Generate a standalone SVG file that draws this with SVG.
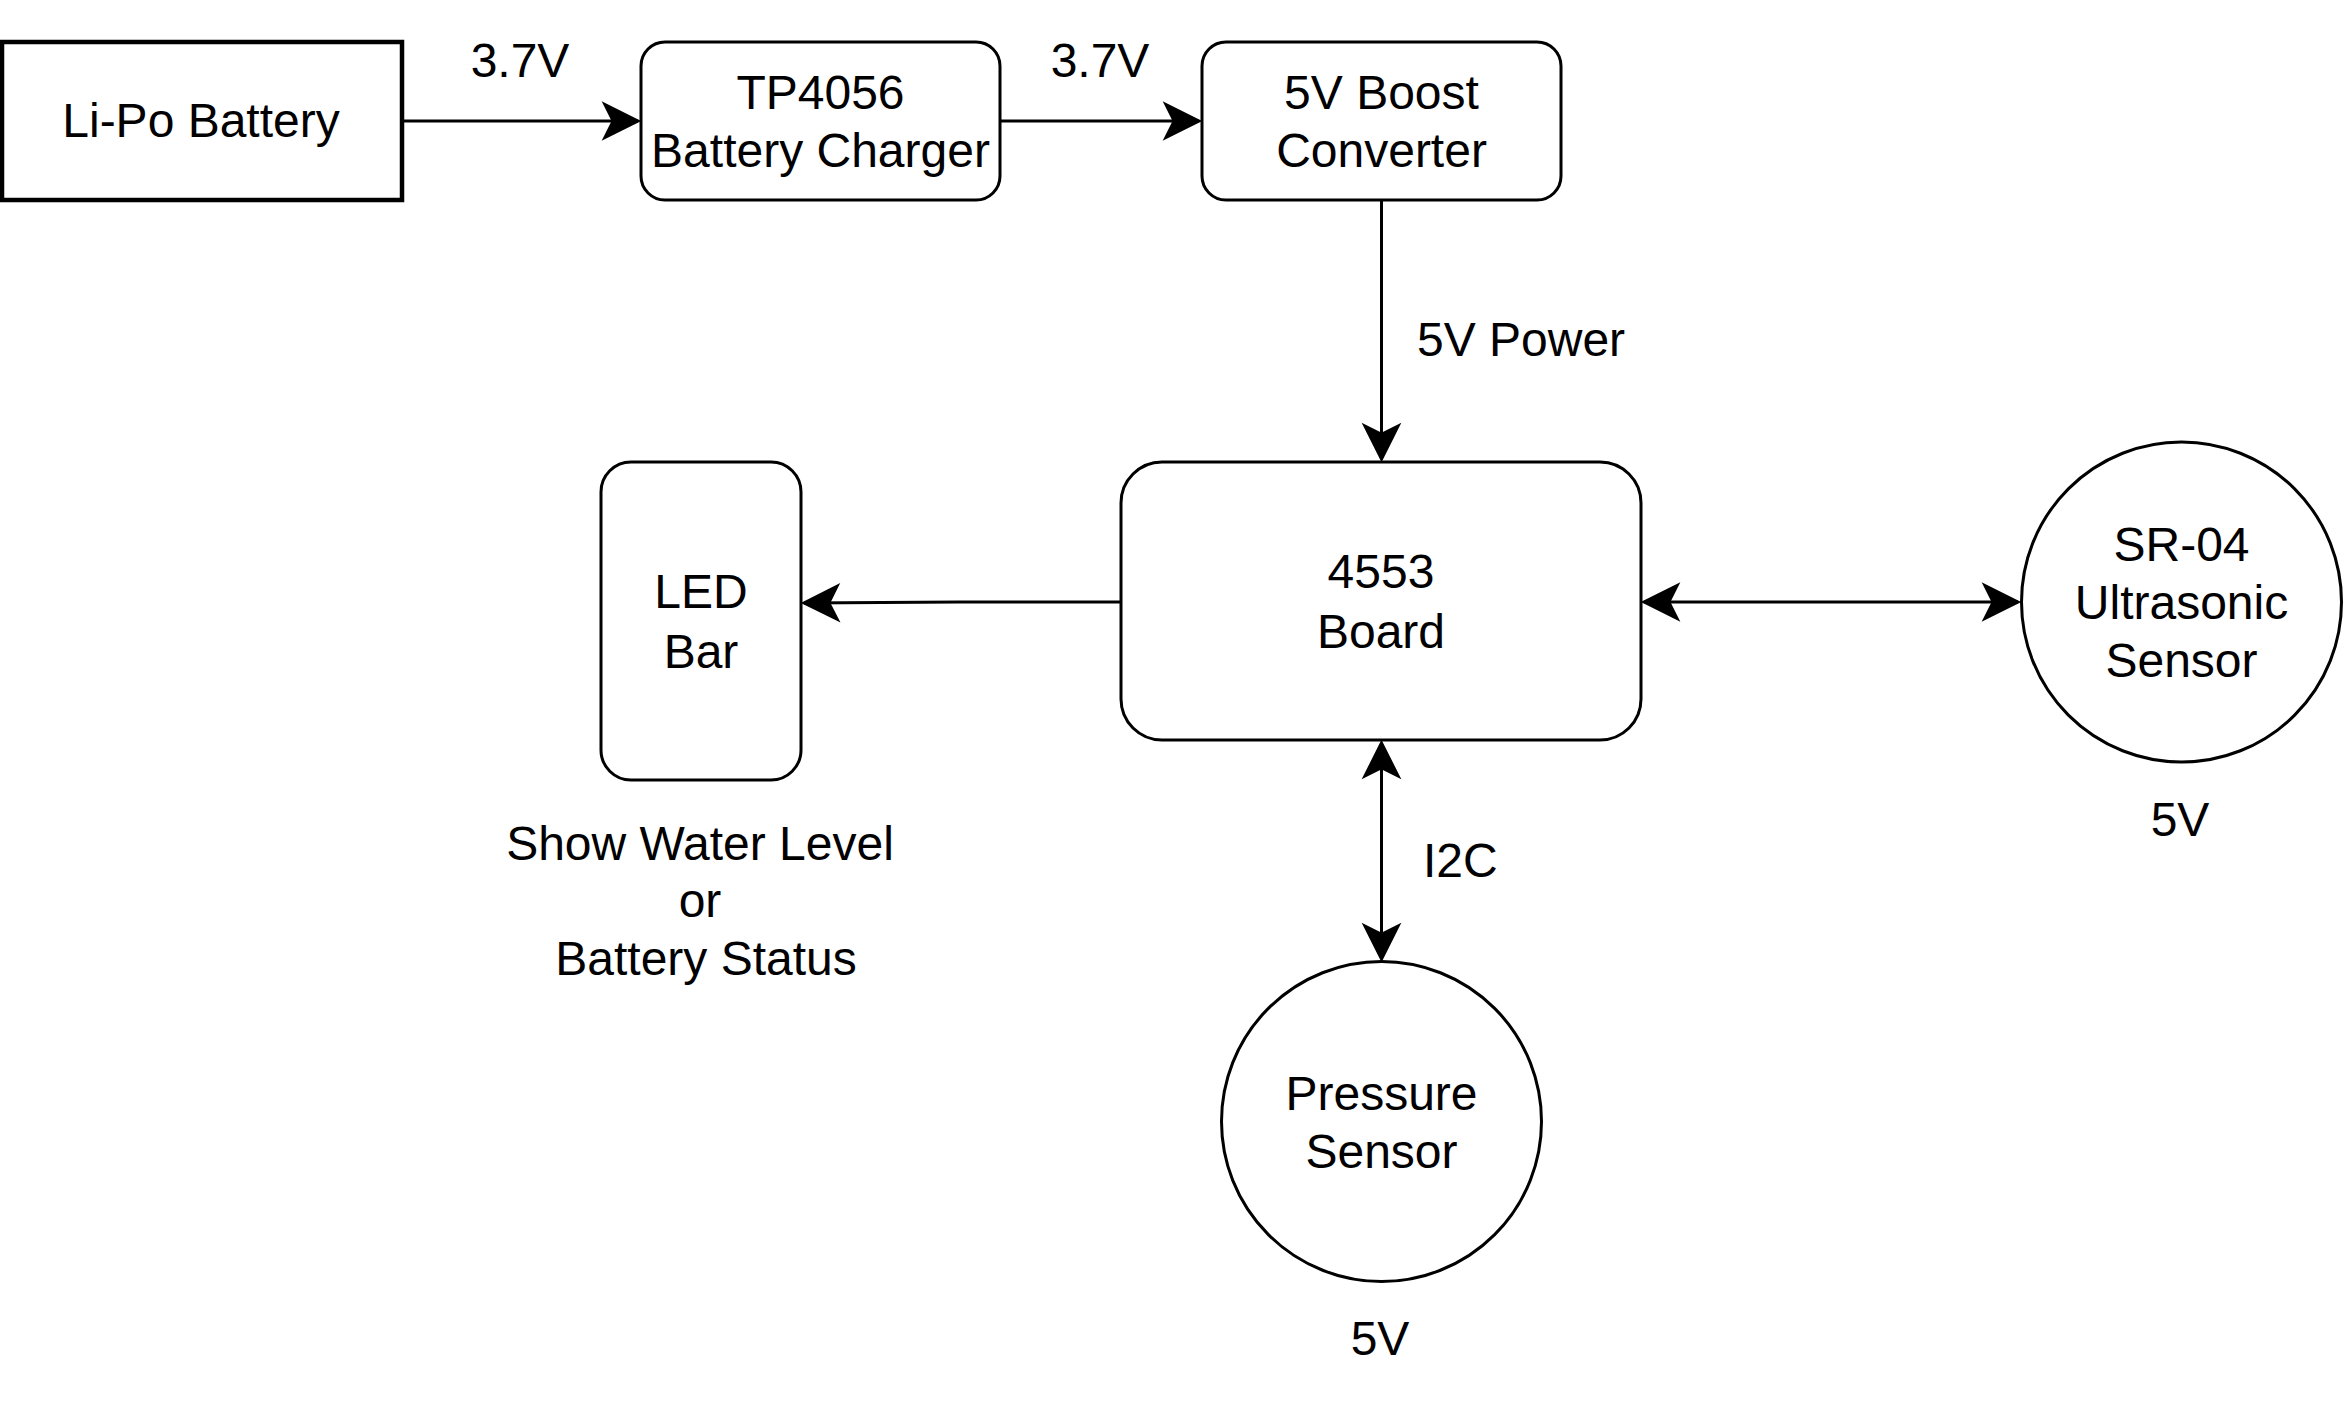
<svg xmlns="http://www.w3.org/2000/svg" width="2344" height="1404" viewBox="0 0 2344 1404">
<style>
.box{fill:#fff;stroke:#000;stroke-width:3}
.thick{stroke-width:4.5}
.t{font-family:"Liberation Sans",Arial,Helvetica,sans-serif;font-size:48px;fill:#000;text-anchor:middle}
.ts{text-anchor:start}
.c{fill:none;stroke:#000;stroke-width:3}
</style>
<defs>
<marker id="arr" markerUnits="userSpaceOnUse" viewBox="-40 -22 44 44" markerWidth="44" markerHeight="44" refX="0" refY="0" orient="auto-start-reverse">
<path d="M0,0 L-33,-16.5 L-24.75,0 L-33,16.5 Z" fill="#000" stroke="#000" stroke-width="3" stroke-linejoin="miter"/>
</marker>
</defs>
<rect width="2344" height="1404" fill="#fff"/>
<g id="connectors">
<path class="c" d="M402,121 L638,121" marker-end="url(#arr)"/>
<path class="c" d="M1000,121 L1199,121" marker-end="url(#arr)"/>
<path class="c" d="M1381.5,200 L1381.5,459" marker-end="url(#arr)"/>
<path class="c" d="M1121,602 L960,602 L804,603" marker-end="url(#arr)"/>
<path class="c" d="M1644,602 L2018,602" marker-start="url(#arr)" marker-end="url(#arr)"/>
<path class="c" d="M1381.5,743 L1381.5,959" marker-start="url(#arr)" marker-end="url(#arr)"/>
</g>
<g id="lipo">
<rect class="box thick" x="2" y="42" width="400" height="158"/>
<text class="t" x="201" y="137">Li-Po Battery</text>
</g>
<g id="tp4056">
<rect class="box" x="641" y="42" width="359" height="158" rx="24" ry="24"/>
<text class="t" x="820.5" y="109">TP4056</text>
<text class="t" x="820.5" y="167">Battery Charger</text>
</g>
<g id="boost">
<rect class="box" x="1202" y="42" width="359" height="158" rx="24" ry="24"/>
<text class="t" x="1381.5" y="109">5V Boost</text>
<text class="t" x="1381.5" y="167">Converter</text>
</g>
<g id="board">
<rect class="box" x="1121" y="462" width="520" height="278" rx="41" ry="41"/>
<text class="t" x="1381" y="588">4553</text>
<text class="t" x="1381" y="648">Board</text>
</g>
<g id="ledbar">
<rect class="box" x="601" y="462" width="200" height="318" rx="30" ry="30"/>
<text class="t" x="701" y="608">LED</text>
<text class="t" x="701" y="668">Bar</text>
</g>
<g id="sr04">
<circle class="box" cx="2181.5" cy="602" r="160"/>
<text class="t" x="2181.5" y="561">SR-04</text>
<text class="t" x="2181.5" y="619">Ultrasonic</text>
<text class="t" x="2181.5" y="677">Sensor</text>
</g>
<g id="pressure">
<circle class="box" cx="1381.5" cy="1121.5" r="160"/>
<text class="t" x="1381.5" y="1110">Pressure</text>
<text class="t" x="1381.5" y="1168">Sensor</text>
</g>
<g id="labels">
<text class="t" x="520" y="77">3.7V</text>
<text class="t" x="1100" y="77">3.7V</text>
<text class="t ts" x="1417" y="356">5V Power</text>
<text class="t ts" x="1423" y="877">I2C</text>
<text class="t" x="700" y="860">Show Water Level</text>
<text class="t" x="700" y="917">or</text>
<text class="t" x="706" y="975">Battery Status</text>
<text class="t" x="2180" y="836">5V</text>
<text class="t" x="1380" y="1355">5V</text>
</g>
</svg>
